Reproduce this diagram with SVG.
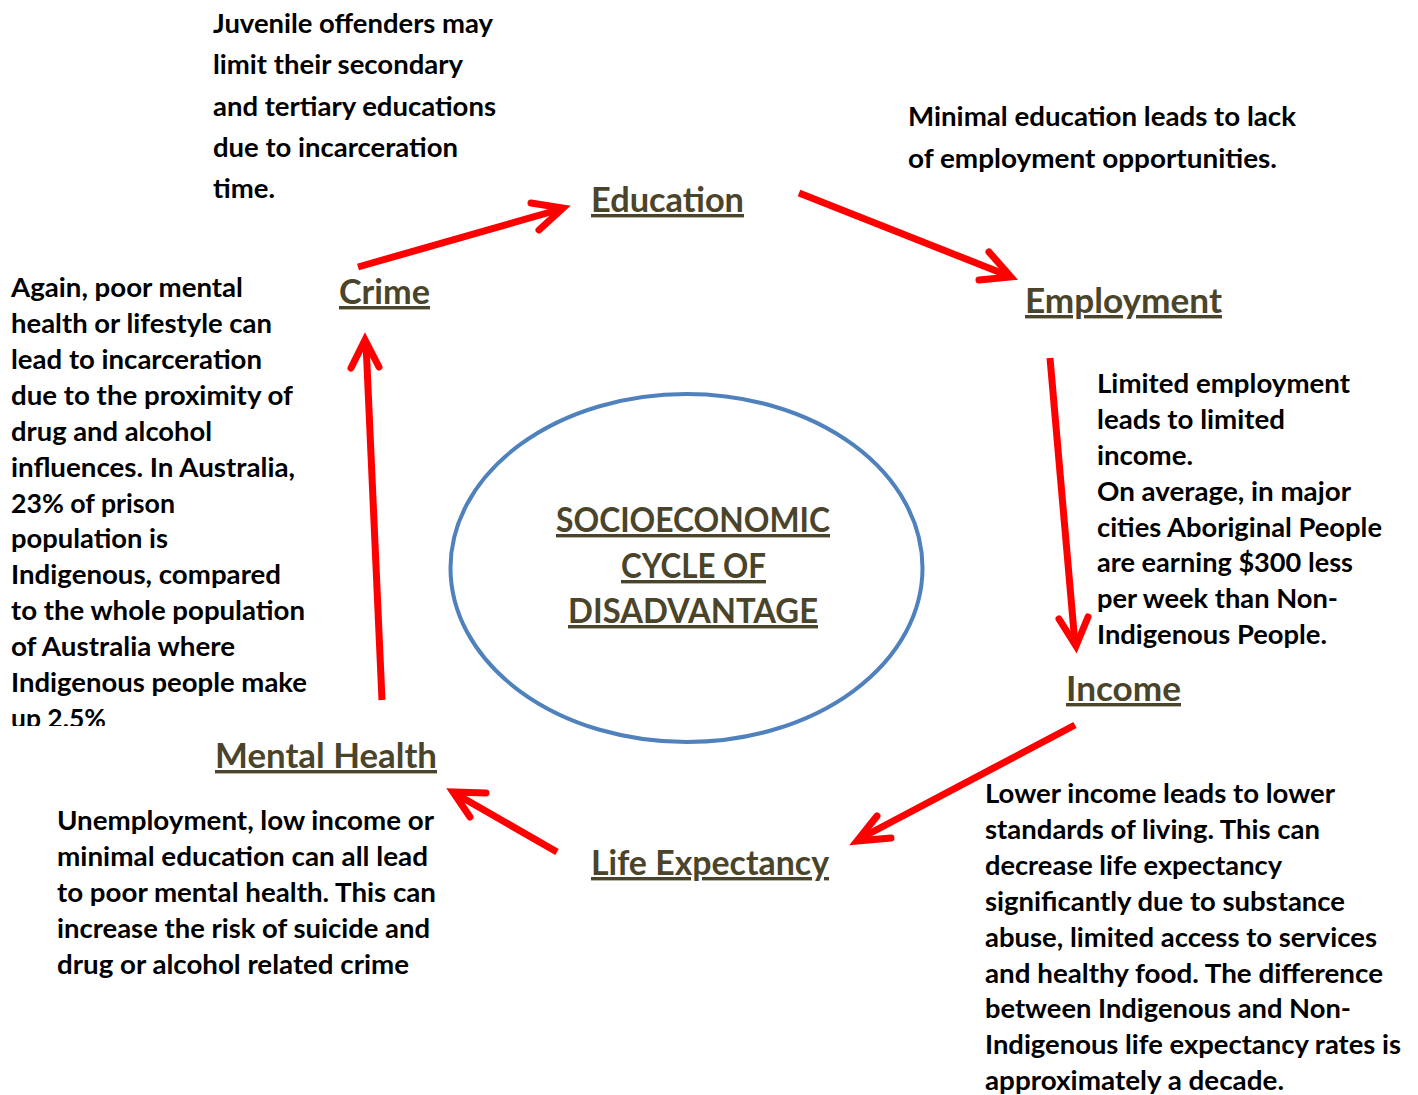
<svg xmlns="http://www.w3.org/2000/svg" width="1418" height="1095" viewBox="0 0 1418 1095">
  <style>
    .body { font-family: Lato, "Open Sans", "Liberation Sans", sans-serif; font-weight: bold; font-size: 26.5px; fill: #000000; }
    .head { font-family: Lato, "Open Sans", "Liberation Sans", sans-serif; font-weight: bold; font-size: 34px; fill: #4a442a; text-decoration: underline; }
    .shaft { fill: none; stroke: #ff0000; stroke-width: 7; stroke-linecap: butt; }
    .head-arrow { fill: none; stroke: #ff0000; stroke-width: 7; stroke-linecap: round; stroke-linejoin: miter; stroke-miterlimit: 10; }
  </style>
  <defs>
    <clipPath id="clipLeft">
      <rect x="0" y="260" width="330" height="466"/>
    </clipPath>
  </defs>
  <rect x="0" y="0" width="1418" height="1095" fill="#ffffff"/>

  <g id="centre">
    <ellipse cx="686.5" cy="568" rx="236" ry="174" fill="none" stroke="#4f81bd" stroke-width="4"/>
    <text class="head" x="556" y="532" textLength="274" lengthAdjust="spacingAndGlyphs">SOCIOECONOMIC</text>
    <text class="head" x="621" y="578" textLength="145" lengthAdjust="spacingAndGlyphs">CYCLE OF</text>
    <text class="head" x="568" y="623" textLength="250" lengthAdjust="spacingAndGlyphs">DISADVANTAGE</text>
  </g>

  <g id="node-education">
    <text class="head" x="591" y="212" textLength="153" lengthAdjust="spacingAndGlyphs">Education</text>
  </g>
  <g id="node-employment">
    <text class="head" x="1025" y="313" textLength="197" lengthAdjust="spacingAndGlyphs">Employment</text>
  </g>
  <g id="node-income">
    <text class="head" x="1066" y="701" textLength="115" lengthAdjust="spacingAndGlyphs">Income</text>
  </g>
  <g id="node-life-expectancy">
    <text class="head" x="591" y="875" textLength="238" lengthAdjust="spacingAndGlyphs">Life Expectancy</text>
  </g>
  <g id="node-mental-health">
    <text class="head" x="215" y="768" textLength="222" lengthAdjust="spacingAndGlyphs">Mental Health</text>
  </g>
  <g id="node-crime">
    <text class="head" x="339" y="304" textLength="91" lengthAdjust="spacingAndGlyphs">Crime</text>
  </g>

  <g id="note-crime-education">
    <text class="body" x="213" y="33" textLength="280" lengthAdjust="spacingAndGlyphs">Juvenile offenders may</text>
    <text class="body" x="213" y="74" textLength="250" lengthAdjust="spacingAndGlyphs">limit their secondary</text>
    <text class="body" x="213" y="116" textLength="283" lengthAdjust="spacingAndGlyphs">and tertiary educations</text>
    <text class="body" x="213" y="157" textLength="245" lengthAdjust="spacingAndGlyphs">due to incarceration</text>
    <text class="body" x="213" y="198" textLength="62" lengthAdjust="spacingAndGlyphs">time.</text>
  </g>

  <g id="note-education-employment">
    <text class="body" x="908" y="126" textLength="388" lengthAdjust="spacingAndGlyphs">Minimal education leads to lack</text>
    <text class="body" x="908" y="168" textLength="369" lengthAdjust="spacingAndGlyphs">of employment opportunities.</text>
  </g>

  <g id="note-employment-income">
    <text class="body" x="1097" y="393" textLength="253" lengthAdjust="spacingAndGlyphs">Limited employment</text>
    <text class="body" x="1097" y="429" textLength="188" lengthAdjust="spacingAndGlyphs">leads to limited</text>
    <text class="body" x="1097" y="465" textLength="96" lengthAdjust="spacingAndGlyphs">income.</text>
    <text class="body" x="1097" y="501" textLength="254" lengthAdjust="spacingAndGlyphs">On average, in major</text>
    <text class="body" x="1097" y="537" textLength="285" lengthAdjust="spacingAndGlyphs">cities Aboriginal People</text>
    <text class="body" x="1097" y="572" textLength="256" lengthAdjust="spacingAndGlyphs">are earning $300 less</text>
    <text class="body" x="1097" y="608" textLength="241" lengthAdjust="spacingAndGlyphs">per week than Non-</text>
    <text class="body" x="1097" y="644" textLength="230" lengthAdjust="spacingAndGlyphs">Indigenous People.</text>
  </g>

  <g id="note-income-life">
    <text class="body" x="985" y="803" textLength="350" lengthAdjust="spacingAndGlyphs">Lower income leads to lower</text>
    <text class="body" x="985" y="839" textLength="335" lengthAdjust="spacingAndGlyphs">standards of living. This can</text>
    <text class="body" x="985" y="875" textLength="297" lengthAdjust="spacingAndGlyphs">decrease life expectancy</text>
    <text class="body" x="985" y="911" textLength="360" lengthAdjust="spacingAndGlyphs">significantly due to substance</text>
    <text class="body" x="985" y="947" textLength="392" lengthAdjust="spacingAndGlyphs">abuse, limited access to services</text>
    <text class="body" x="985" y="983" textLength="398" lengthAdjust="spacingAndGlyphs">and healthy food. The difference</text>
    <text class="body" x="985" y="1018" textLength="366" lengthAdjust="spacingAndGlyphs">between Indigenous and Non-</text>
    <text class="body" x="985" y="1054" textLength="416" lengthAdjust="spacingAndGlyphs">Indigenous life expectancy rates is</text>
    <text class="body" x="985" y="1090" textLength="299" lengthAdjust="spacingAndGlyphs">approximately a decade.</text>
  </g>

  <g id="note-life-mental">
    <text class="body" x="57" y="830" textLength="377" lengthAdjust="spacingAndGlyphs">Unemployment, low income or</text>
    <text class="body" x="57" y="866" textLength="371" lengthAdjust="spacingAndGlyphs">minimal education can all lead</text>
    <text class="body" x="57" y="902" textLength="379" lengthAdjust="spacingAndGlyphs">to poor mental health. This can</text>
    <text class="body" x="57" y="938" textLength="373" lengthAdjust="spacingAndGlyphs">increase the risk of suicide and</text>
    <text class="body" x="57" y="974" textLength="352" lengthAdjust="spacingAndGlyphs">drug or alcohol related crime</text>
  </g>

  <g id="note-mental-crime" clip-path="url(#clipLeft)">
    <text class="body" x="11" y="297" textLength="232" lengthAdjust="spacingAndGlyphs">Again, poor mental</text>
    <text class="body" x="11" y="333" textLength="261" lengthAdjust="spacingAndGlyphs">health or lifestyle can</text>
    <text class="body" x="11" y="369" textLength="251" lengthAdjust="spacingAndGlyphs">lead to incarceration</text>
    <text class="body" x="11" y="405" textLength="282" lengthAdjust="spacingAndGlyphs">due to the proximity of</text>
    <text class="body" x="11" y="441" textLength="201" lengthAdjust="spacingAndGlyphs">drug and alcohol</text>
    <text class="body" x="11" y="477" textLength="284" lengthAdjust="spacingAndGlyphs">influences. In Australia,</text>
    <text class="body" x="11" y="513" textLength="164" lengthAdjust="spacingAndGlyphs">23% of prison</text>
    <text class="body" x="11" y="548" textLength="157" lengthAdjust="spacingAndGlyphs">population is</text>
    <text class="body" x="11" y="584" textLength="270" lengthAdjust="spacingAndGlyphs">Indigenous, compared</text>
    <text class="body" x="11" y="620" textLength="294" lengthAdjust="spacingAndGlyphs">to the whole population</text>
    <text class="body" x="11" y="656" textLength="224" lengthAdjust="spacingAndGlyphs">of Australia where</text>
    <text class="body" x="11" y="692" textLength="296" lengthAdjust="spacingAndGlyphs">Indigenous people make</text>
    <text class="body" x="11" y="728" textLength="95" lengthAdjust="spacingAndGlyphs">up 2.5%</text>
  </g>

  <g id="connectors">
    <!-- Crime -> Education -->
    <line class="shaft" x1="358" y1="267" x2="561" y2="209"/>
    <polyline class="head-arrow" points="531,203 563,208 539,230"/>
    <!-- Education -> Employment -->
    <line class="shaft" x1="799" y1="193" x2="1009" y2="276"/>
    <polyline class="head-arrow" points="989,252 1011,277 979,280"/>
    <!-- Employment -> Income -->
    <line class="shaft" x1="1050" y1="358" x2="1075" y2="644"/>
    <polyline class="head-arrow" points="1059,619 1076,646 1088,617"/>
    <!-- Income -> Life Expectancy -->
    <line class="shaft" x1="1075" y1="725" x2="861" y2="838"/>
    <polyline class="head-arrow" points="877,816 857,841 891,838"/>
    <!-- Life Expectancy -> Mental Health -->
    <line class="shaft" x1="557" y1="852" x2="456" y2="794"/>
    <polyline class="head-arrow" points="486,793 453,792 470,817"/>
    <!-- Mental Health -> Crime -->
    <line class="shaft" x1="382" y1="700" x2="366" y2="343"/>
    <polyline class="head-arrow" points="351,368 365,340 379,367"/>
  </g>
</svg>
